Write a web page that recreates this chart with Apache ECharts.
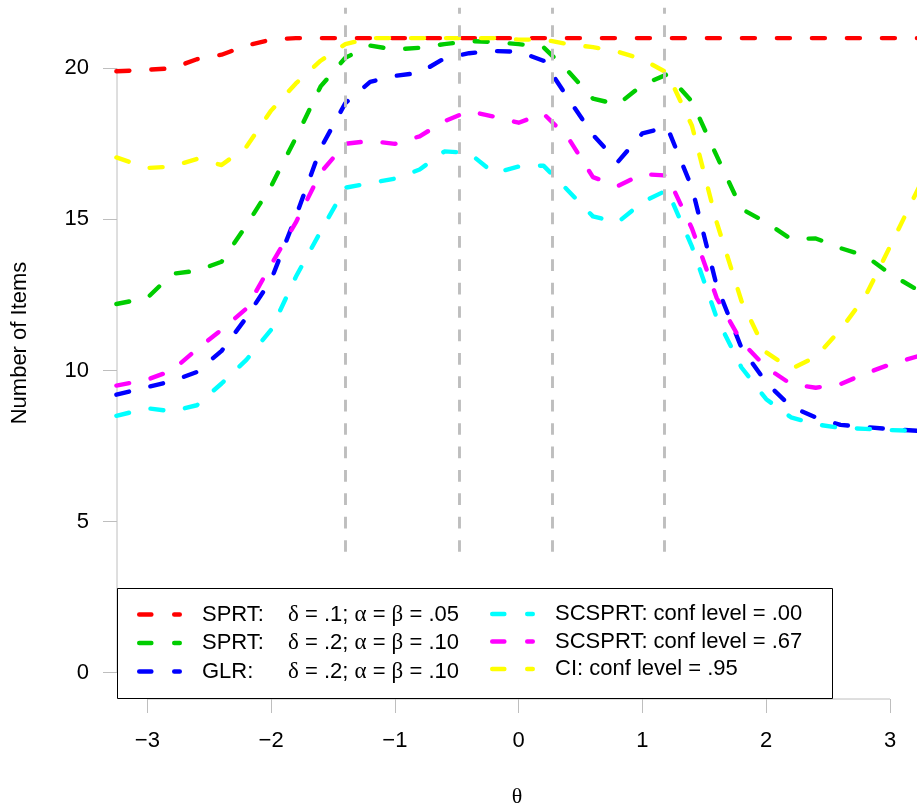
<!DOCTYPE html>
<html><head><meta charset="utf-8">
<script src="https://cdn.jsdelivr.net/npm/echarts@6/dist/echarts.min.js"></script>
<style>html,body{margin:0;padding:0;background:#fff}#c{width:917px;height:809px}</style>
</head><body><div id="c"></div>
<script>
// ---- data ----
const theta = [-3.25,-3.0,-2.8,-2.6,-2.4,-2.2,-2.0,-1.8,-1.6,-1.4,-1.2,-1.0,-0.8,-0.6,-0.4,-0.2,0.0,0.2,0.4,0.6,0.8,1.0,1.2,1.4,1.6,1.8,2.0,2.2,2.4,2.6,2.8,3.0,3.25];
const sprt1 = [19.9,19.95,20.0,20.3,20.45,20.75,20.95,21,21,21,21,21,21,21,21,21,21,21,21,21,21,21,21,21,21,21,21,21,21,21,21,21,21];
const sprt2 = [12.2,12.4,13.2,13.3,13.6,14.8,16.1,17.7,19.4,20.35,20.75,20.62,20.68,20.8,20.9,20.87,20.8,20.7,19.9,19.0,18.8,19.45,19.8,18.9,17.1,15.35,14.9,14.35,14.37,14.05,13.8,13.2,12.6];
const glr = [9.2,9.45,9.65,9.95,10.65,11.75,13.0,15.1,17.35,18.85,19.55,19.75,19.85,20.33,20.5,20.57,20.55,20.25,19.0,17.8,16.9,17.85,18.05,16.05,12.8,10.75,9.6,8.8,8.45,8.2,8.13,8.06,8.0];
const scs00 = [8.5,8.75,8.65,8.85,9.57,10.35,11.35,13.1,14.6,16.05,16.2,16.35,16.65,17.25,17.2,16.53,16.75,16.78,15.95,15.1,14.9,15.57,15.97,14.1,11.74,10.1,9.05,8.45,8.22,8.1,8.07,8.03,8.0];
const scs67 = [9.5,9.7,10.0,10.7,11.35,12.05,13.5,14.9,16.55,17.5,17.6,17.5,17.75,18.25,18.58,18.4,18.2,18.5,17.7,16.4,16.1,16.5,16.45,14.7,12.4,10.95,10.1,9.55,9.43,9.55,9.9,10.2,10.5];
const ci95 = [17.05,16.7,16.75,17.0,16.8,17.4,18.6,19.5,20.25,20.8,21.0,21.0,21.0,21.0,21.0,21.0,20.95,20.95,20.8,20.7,20.55,20.3,19.85,18.1,14.9,12.3,10.6,10.05,10.45,11.35,12.45,14.1,16.2];
const seriesNames = ["SPRT:|δ = .1; α = β = .05","SPRT:|δ = .2; α = β = .10","GLR:|δ = .2; α = β = .10","SCSPRT: conf level = .00","SCSPRT: conf level = .67","CI: conf level = .95"];
const seriesColors = ["#ff0000","#00cd00","#0000ff","#00ffff","#ff00ff","#ffff00"];
const xTicks = [-3,-2,-1,0,1,2,3];
const yTicks = [0,5,10,15,20];
const cutPoints = [-1.40,-0.48,0.27,1.175];
const cutLow = 4, cutHigh = 22;
const xMin = -3.245, xMax = 3.218, yMin = -0.870, yMax = 22.26;

const values = [sprt1, sprt2, glr, scs00, scs67, ci95];
const FONT = "'Liberation Sans', Arial, Helvetica, sans-serif";
const SERIF = "'Liberation Serif', 'DejaVu Serif', serif";
const AXC = "#bebebe";

const chart = echarts.init(document.getElementById('c'), null, {renderer:'canvas'});

const dataSeries = values.map((vals, i) => ({
  name: seriesNames[i],
  type: 'line',
  data: theta.map((t, k) => [t, vals[k]]),
  symbol: 'none',
  showSymbol: false,
  color: seriesColors[i],
  itemStyle: {color: seriesColors[i], borderWidth: 0},
  lineStyle: {color: seriesColors[i], width: 4.4, type: [13, 22], cap: 'round', join: 'round'},
  emphasis: {disabled: true},
  silent: true,
  animation: false,
  z: 3
}));

function fmtLegend(name) {
  let out = '{sp| }';
  let rest = name;
  if (name.indexOf('|') >= 0) {
    const parts = name.split('|');
    out += '{lab|' + parts[0] + '}';
    rest = parts[1];
  }
  let buf = '';
  for (const ch of rest) {
    if ('δαβ'.indexOf(ch) >= 0) {
      if (buf) { out += '{t|' + buf + '}'; buf = ''; }
      out += '{g|' + ch + '}';
    } else buf += ch;
  }
  if (buf) out += '{t|' + buf + '}';
  return out;
}
const richStyle = {
  sp: {width: 15, fontSize: 22, lineHeight: 22},
  lab: {width: 86, fontSize: 22, fontFamily: FONT, color: '#000', lineHeight: 22},
  t: {fontSize: 22, fontFamily: FONT, color: '#000', lineHeight: 22},
  g: {fontSize: 23, fontFamily: SERIF, color: '#000', lineHeight: 22}
};
const dashIcon = 'path://M2.2,0 L14.4,0 A2.2,2.2 0 0 1 14.4,4.4 L2.2,4.4 A2.2,2.2 0 0 1 2.2,0 Z M37.2,0 L42.8,0 A2.2,2.2 0 0 1 42.8,4.4 L37.2,4.4 A2.2,2.2 0 0 1 37.2,0 Z';
function legendCfg(names, left) {
  return {
    data: names.map(n => ({name: n, icon: dashIcon})),
    orient: 'vertical',
    left: left, top: 588,
    padding: [15, 0, 0, 0],
    itemWidth: 45, itemHeight: 4.4, itemGap: 5.5,
    selectedMode: false,
    itemStyle: {borderWidth: 0},
    formatter: fmtLegend,
    textStyle: {fontSize: 22, fontFamily: FONT, color: '#000', rich: richStyle},
    z: 10
  };
}

const option = {
  animation: false,
  backgroundColor: '#fff',
  grid: {left: 117, right: 0, top: 0, bottom: 110, containLabel: false, outerBoundsMode: 'none'},
  xAxis: {
    type: 'value', min: xMin, max: xMax,
    axisLine: {show: false, onZero: false},
    splitLine: {show: false},
    axisTick: {show: true, customValues: xTicks, length: 14, lineStyle: {color: AXC, width: 1}},
    axisLabel: {customValues: xTicks, margin: 31, fontSize: 22, fontFamily: FONT, color: '#000',
      formatter: v => String(v).replace('-', '\u2212')},
    name: 'θ', nameLocation: 'middle', nameGap: 87,
    nameTextStyle: {fontSize: 22, fontFamily: SERIF, color: '#000'}
  },
  yAxis: {
    type: 'value', min: yMin, max: yMax,
    axisLine: {show: false, onZero: false},
    splitLine: {show: false},
    axisTick: {show: true, customValues: yTicks, length: 14, lineStyle: {color: AXC, width: 1}},
    axisLabel: {customValues: yTicks, margin: 28, fontSize: 22, fontFamily: FONT, color: '#000'}
  },
  legend: [legendCfg(seriesNames.slice(0, 3), 137), legendCfg(seriesNames.slice(3), 490)],
  graphic: [
    {type: 'rect', z: 5, shape: {x: 117.5, y: 588.5, width: 715, height: 110},
     style: {fill: '#fff', stroke: '#000', lineWidth: 1}},
    {type: 'text', z: 5, x: 20, y: 343, rotation: Math.PI / 2,
     style: {text: 'Number of Items', fontSize: 22, fontFamily: FONT, fill: '#000', align: 'center', verticalAlign: 'middle'}}
  ],
  series: [
    {
      name: 'xAxisLine', type: 'line', silent: true, clip: false, symbol: 'none', z: 1,
      data: [[xTicks[0], yMin], [xTicks[xTicks.length - 1], yMin]],
      lineStyle: {color: AXC, width: 1},
      markLine: {
        silent: true, symbol: ['none', 'none'], label: {show: false},
        lineStyle: {color: AXC, width: 2.9, type: [11.7, 11.7], cap: 'butt'},
        emphasis: {disabled: true},
        data: cutPoints.map(v => [{coord: [v, cutLow]}, {coord: [v, cutHigh]}])
      }
    },
    {
      name: 'yAxisLine', type: 'line', silent: true, clip: false, symbol: 'none', z: 1,
      data: [[xMin, yTicks[0]], [xMin, yTicks[yTicks.length - 1]]],
      lineStyle: {color: AXC, width: 1}
    }
  ].concat(dataSeries)
};
chart.setOption(option);
</script>
</body></html>
